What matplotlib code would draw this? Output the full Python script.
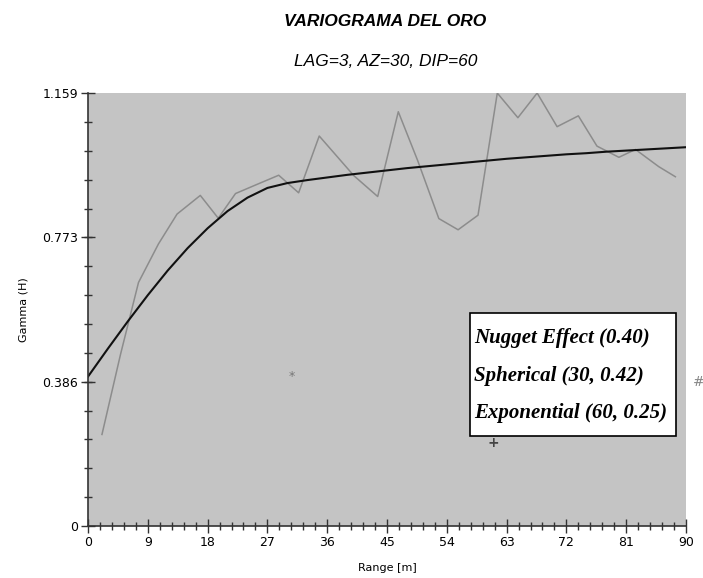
import numpy as np
import matplotlib.pyplot as plt
from matplotlib.ticker import MultipleLocator, FixedLocator

lag = [2.1, 4.9, 7.6, 10.6, 13.4, 16.9, 19.6, 22.2, 25.5, 28.7,
       31.7, 34.8, 40.0, 43.6, 46.7, 49.6, 52.8, 55.7, 58.7, 61.6,
       64.7, 67.6, 70.6, 73.8, 76.6, 79.9, 82.4, 85.9, 88.4]
gamma_exp = [0.245, 0.46, 0.652, 0.755, 0.835, 0.885, 0.824, 0.89, 0.915, 0.939,
             0.892, 1.044, 0.938, 0.882, 1.109, 0.979, 0.823, 0.793, 0.832, 1.159,
             1.093, 1.159, 1.069, 1.098, 1.017, 0.987, 1.008, 0.962, 0.935]

# fitted model (black line)
h_model = [0, 3, 6, 9, 12, 15, 18, 21, 24, 27, 30, 33, 36, 39, 42, 45,
           48, 51, 54, 57, 60, 63, 66, 69, 72, 75, 78, 81, 84, 87, 90]
gamma_model = [0.400, 0.475, 0.548, 0.618, 0.684, 0.744, 0.797, 0.843, 0.879,
               0.905, 0.918, 0.926, 0.933, 0.940, 0.946, 0.952, 0.958, 0.963,
               0.968, 0.973, 0.978, 0.983, 0.987, 0.991, 0.995, 0.998, 1.002,
               1.005, 1.008, 1.011, 1.014]

yticks = [0, 0.386, 0.773, 1.159]
ytick_labels = ["0", "0.386", "0.773", "1.159"]
legend_lines = ["Nugget Effect (0.40)", "Spherical (30, 0.42)", "Exponential (60, 0.25)"]

fig = plt.figure(figsize=(7.03, 5.78), dpi=100)
ax = fig.add_axes([0.1252, 0.09, 0.8506, 0.749])
ax.set_facecolor('#c4c4c4')

ax.plot(lag, gamma_exp, color='#8c8c8c', lw=1.1)
ax.plot(h_model, gamma_model, color='#111111', lw=1.5)

# symbols
ax.text(30.7, 0.40, '*', color='#777777', fontsize=9, ha='center', va='center')
ax.text(61.0, 0.223, '+', color='#444444', fontsize=10, fontweight='bold', ha='center', va='center')
ax.text(91.0, 0.386, '#', color='#888888', fontsize=10, ha='left', va='center', clip_on=False)

ax.set_xlim(0, 90)
ax.set_ylim(0, 1.159)
ax.xaxis.set_major_locator(MultipleLocator(9))
ax.xaxis.set_minor_locator(MultipleLocator(1.8))
ax.yaxis.set_major_locator(FixedLocator(yticks))
ax.yaxis.set_minor_locator(MultipleLocator(1.159 / 15))
ax.set_yticklabels(ytick_labels)

for s in ['top', 'right']:
    ax.spines[s].set_visible(False)
for s in ['left', 'bottom']:
    ax.spines[s].set_color('#333333')
    ax.spines[s].set_linewidth(1.2)
ax.tick_params(which='major', direction='inout', length=10, width=1, color='#333333',
               labelsize=9, pad=2)
ax.tick_params(which='minor', direction='inout', length=6, width=1, color='#333333')

ax.set_xlabel('Range [m]', fontsize=8, labelpad=10)
ax.set_ylabel('Gamma (H)', fontsize=8, labelpad=10)

fig.text(0.548, 0.962, 'VARIOGRAMA DEL ORO', ha='center', va='center',
         fontsize=12.5, fontweight='bold', style='italic', family='Liberation Sans')
fig.text(0.548, 0.893, 'LAG=3, AZ=30, DIP=60', ha='center', va='center',
         fontsize=12.5, style='italic', family='Liberation Sans')

# legend box
box_x0, box_y0, box_x1, box_y1 = 470 / 703, 1 - 436 / 578, 676 / 703, 1 - 313 / 578
fig.patches.append(plt.Rectangle((box_x0, box_y0), box_x1 - box_x0, box_y1 - box_y0,
                                 transform=fig.transFigure, facecolor='white',
                                 edgecolor='black', lw=1.2, zorder=5))
for i, txt in enumerate(legend_lines):
    fig.text(474 / 703, 1 - (338 + i * 37.5) / 578, txt, ha='left', va='center',
             fontsize=15, fontweight='bold', style='italic', family='Liberation Serif',
             zorder=6)

fig.savefig('out.png', dpi=100)
